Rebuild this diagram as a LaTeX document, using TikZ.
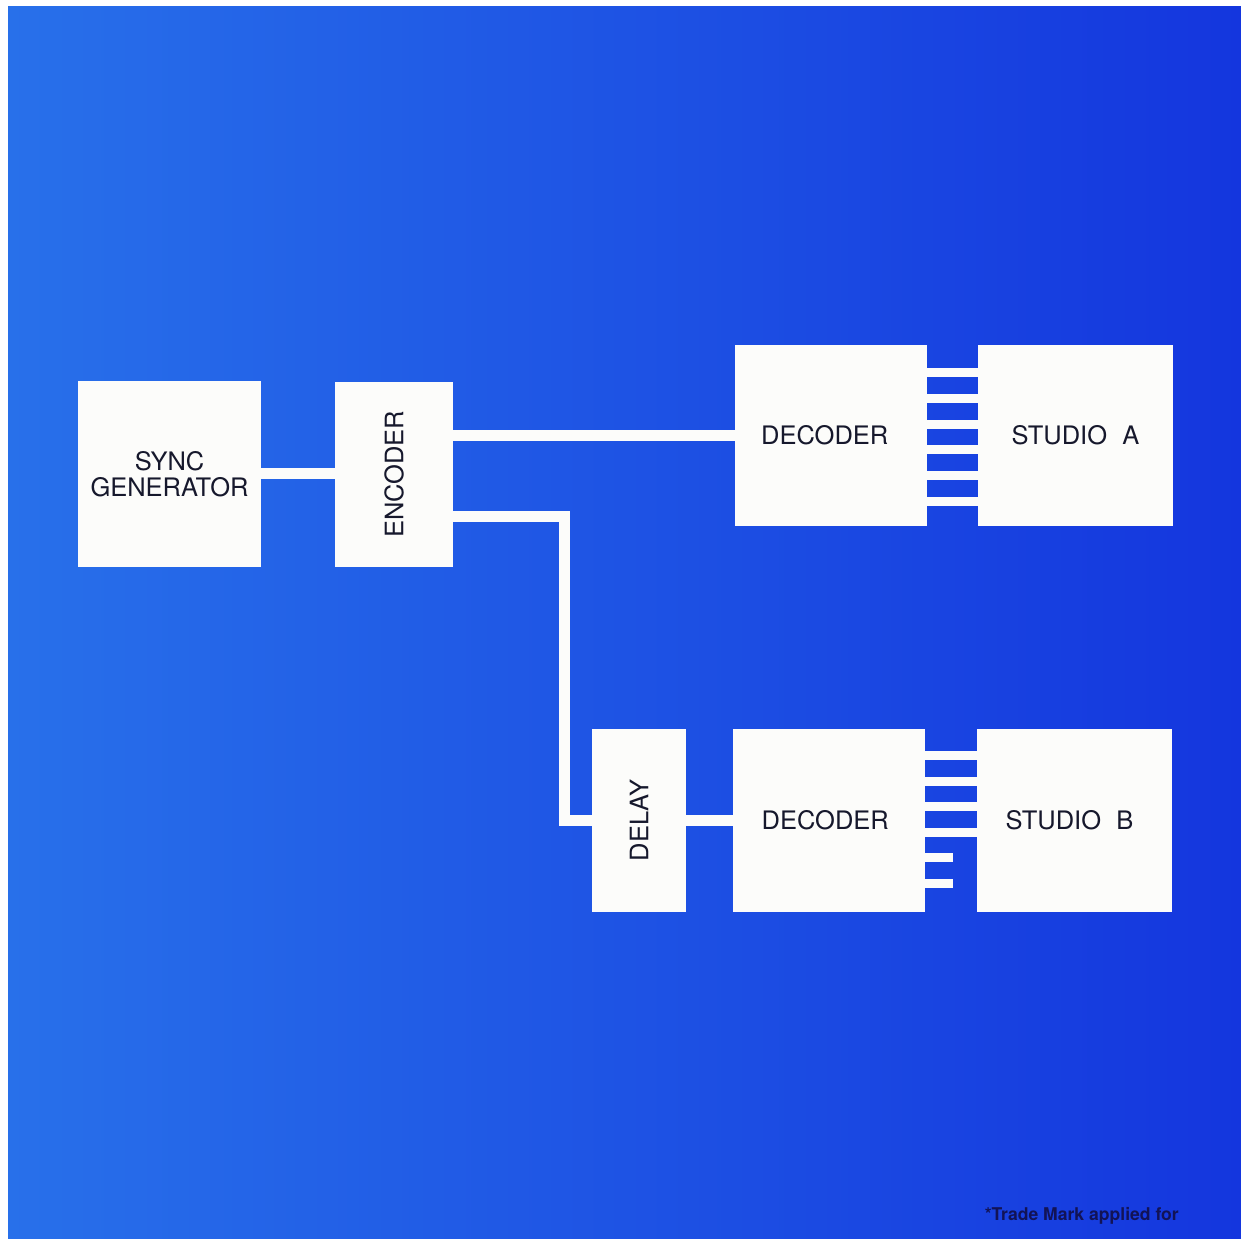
\documentclass[tikz,border=0pt]{standalone}
\usepackage{fontspec}
\setmainfont{TeX Gyre Heros}
\usepackage{tikz}
\definecolor{bgleft}{RGB}{40,112,234}
\definecolor{bgright}{RGB}{20,54,222}
\definecolor{ink}{RGB}{22,24,44}
\definecolor{paper}{RGB}{252,252,250}

\begin{document}
\begin{tikzpicture}[
  box/.style={fill=paper, inner sep=0pt, align=center, text=ink,
              font=\fontsize{14.5}{17}\selectfont},
  wire/.style={draw=paper, line width=0.22cm},
  bus/.style={draw=paper, line width=0.18cm},
  note/.style={font=\bfseries\fontsize{10}{12}\selectfont, text=ink!80!blue}]
  % page and blue ground
  \useasboundingbox (0,0) rectangle (24.82,24.78);
  \fill[white] (0,0) rectangle (24.82,24.78);
  \fill[left color=bgleft, right color=bgright] (0.16,0) rectangle (24.82,24.64);
  % source side
  \node[box, minimum width=3.66cm, minimum height=3.72cm] (sync) at (3.39,15.30) {SYNC\\[-2.5pt]GENERATOR};
  \node[box, minimum width=2.36cm, minimum height=3.70cm] (enc)  at (7.88,15.29) {\rotatebox{90}{ENCODER}};
  % studio A chain
  \node[box, minimum width=3.84cm, minimum height=3.62cm] (decA)  at (16.62,16.07) {DECODER\hspace{0.25cm}};
  \node[box, minimum width=3.90cm, minimum height=3.62cm] (studA) at (21.51,16.07) {STUDIO\hspace{0.6em}A};
  % studio B chain
  \node[box, minimum width=1.88cm, minimum height=3.66cm] (delay) at (12.78,8.37) {\rotatebox{90}{DELAY}};
  \node[box, minimum width=3.84cm, minimum height=3.66cm] (decB)  at (16.58,8.37) {DECODER\hspace{0.15cm}};
  \node[box, minimum width=3.90cm, minimum height=3.66cm] (studB) at (21.49,8.37) {STUDIO\hspace{0.6em}B\hspace{0.2cm}};
  % feeds
  \draw[wire] (sync.east) -- (sync.east -| enc.west);
  \draw[wire] (decA.west -| enc.east) -- (decA.west);
  \draw[wire] ([yshift=-0.85cm]enc.east) -| ([xshift=-0.54cm]delay.west) -- (delay.west);
  \draw[wire] (delay.east) -- (decB.west);
  % multiway links
  \foreach \k in {0,...,5}
    \draw[bus] ([yshift=-0.56cm-\k*0.514cm]decA.north east) -- ([yshift=-0.56cm-\k*0.514cm]studA.north west);
  \foreach \k in {0,...,3}
    \draw[bus] ([yshift=-0.54cm-\k*0.51cm]decB.north east) -- ([yshift=-0.54cm-\k*0.51cm]studB.north west);
  \foreach \k in {4,5}
    \draw[bus] ([yshift=-0.54cm-\k*0.51cm]decB.north east) coordinate (stub\k) -- ++(0.56,0);
  % footnote
  \node[note, anchor=east] (tm) at (23.70,0.46) {*Trade Mark applied for};
\end{tikzpicture}
\end{document}
